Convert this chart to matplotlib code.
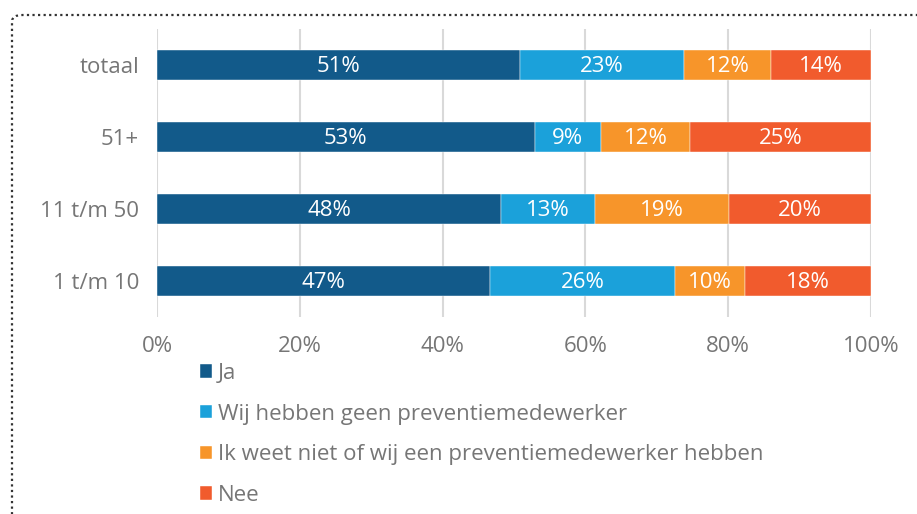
import numpy as np
import matplotlib.pyplot as plt
from matplotlib.patches import FancyBboxPatch

plt.rcParams['font.family'] = ['Open Sans', 'DejaVu Sans']

# data (top to bottom)
categories = ["totaal", "51+", "11 t/m 50", "1 t/m 10"]
ja = [50.8, 52.9, 48.2, 46.6]
geen = [23.0, 9.3, 13.1, 26.0]
weet_niet = [12.2, 12.4, 18.8, 9.8]
nee = [14.0, 25.4, 19.9, 17.6]

series_names = ["Ja", "Wij hebben geen preventiemedewerker",
                "Ik weet niet of wij een preventiemedewerker hebben", "Nee"]
colors = ["#125a8a", "#1ba1da", "#f7952a", "#f15b2d"]

fs = 16
fig = plt.figure(figsize=(9.17, 5.14), dpi=100)
ax = fig.add_axes([157/917, 1 - 317/514, 714/917, 288/514])

y = np.arange(len(categories))
left = np.zeros(len(categories))
for name, vals, col in zip(series_names, [ja, geen, weet_niet, nee], colors):
    vals = np.array(vals)
    ax.barh(y, vals, left=left, height=0.41, color=col, label=name,
            edgecolor="white", linewidth=0.3, zorder=3)
    for yi, l, v in zip(y, left, vals):
        ax.text(l + v / 2, yi + 0.02, f"{round(v):.0f}%", ha="center", va="center",
                color="white", fontsize=fs, zorder=4)
    left += vals

ax.set_xlim(0, 100)
ax.set_ylim(len(categories) - 0.5, -0.5)
ax.set_yticks(y)
ax.set_yticklabels(categories)
ax.set_xticks(np.arange(0, 101, 20))
ax.set_xticklabels([f"{v}%" for v in range(0, 101, 20)])
ax.tick_params(length=0, labelsize=fs, labelcolor="#767676")
ax.tick_params(axis="x", pad=14)
ax.tick_params(axis="y", pad=13)
ax.grid(axis="x", color="#d9d9d9", linewidth=1.5, zorder=0)
for s in ax.spines.values():
    s.set_visible(False)

leg = fig.legend(loc="upper left", bbox_to_anchor=(200/917, 1 - 363/514),
                 frameon=False, fontsize=fs, labelcolor="#767676",
                 handlelength=0.55, handleheight=0.55, handletextpad=0.25,
                 labelspacing=0.88, borderpad=0, borderaxespad=0)

# dotted rounded frame (only top and left visible)
frame = FancyBboxPatch((12/917, -0.2), 1.1, 1 - 15/514 + 0.2,
                       boxstyle="round,pad=0,rounding_size=0.012",
                       transform=fig.transFigure, fill=False,
                       edgecolor="#333333", linestyle=(0, (1, 1.5)), linewidth=1.6,
                       clip_on=False)
fig.patches.append(frame)

fig.savefig("out.png", dpi=100)
